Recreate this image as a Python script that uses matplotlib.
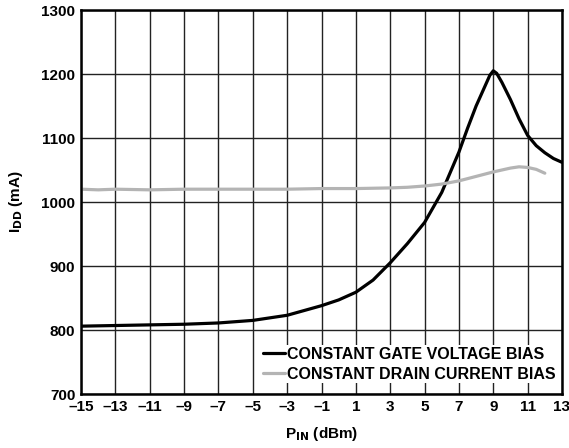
import numpy as np
import matplotlib
matplotlib.use("Agg")
from matplotlib import pyplot as plt

plt.rcParams['font.family'] = ['Liberation Sans', 'DejaVu Sans']
plt.rcParams['font.weight'] = 'bold'
plt.rcParams['mathtext.default'] = 'bf'

# constant gate voltage bias (black)
pin_gate = [-15, -13, -11, -9, -7, -5, -3, -1, 0, 1, 2, 3, 4, 5, 6, 7, 7.5, 8, 8.5, 8.8, 9,
            9.2, 9.5, 10, 10.5, 11, 11.5, 12, 12.5, 13]
idd_gate = [806, 807, 808, 809, 811, 815, 823, 838, 847, 859, 878, 905, 935, 968, 1015, 1078,
            1115, 1150, 1180, 1198, 1205, 1201, 1187, 1160, 1130, 1104, 1088, 1077, 1068, 1062]

# constant drain current bias (gray)
pin_drain = [-15, -14, -13, -11, -9, -7, -5, -3, -1, 1, 3, 4, 5, 6, 7, 8, 9, 10, 10.5, 11, 11.5, 12]
idd_drain = [1020, 1019, 1020, 1019, 1020, 1020, 1020, 1020, 1021, 1021, 1022, 1023, 1025, 1028,
             1033, 1040, 1047, 1053, 1055, 1054, 1051, 1045]

xticks = list(range(-15, 14, 2))
yticks = list(range(700, 1301, 100))

fig = plt.figure(figsize=(5.69, 4.48), dpi=100)
ax = fig.add_axes([81/569, 54/448, 481/569, 384/448])

ax.plot(pin_gate, idd_gate, color='black', lw=2.3, label='CONSTANT GATE VOLTAGE BIAS',
        solid_capstyle='round', zorder=3)
ax.plot(pin_drain, idd_drain, color='#b4b4b4', lw=2.3, label='CONSTANT DRAIN CURRENT BIAS',
        solid_capstyle='round', zorder=3)

ax.set_xlim(-15, 13)
ax.set_ylim(700, 1300)
ax.set_xticks(xticks)
ax.set_xticklabels([str(t).replace('-', '\u2013') for t in xticks], fontweight='bold', fontsize=11)
ax.set_yticks(yticks)
ax.set_yticklabels([str(t) for t in yticks], fontweight='bold', fontsize=11)
ax.grid(True, color='#222222', lw=1.0)
ax.tick_params(length=0, pad=4)
for s in ax.spines.values():
    s.set_linewidth(1.8)
    s.set_zorder(4)

ax.set_xlabel('P$_{\\mathbf{IN}}$ (dBm)', fontsize=11, fontweight='bold', labelpad=8)
ax.set_ylabel('I$_{\\mathbf{DD}}$ (mA)', fontsize=11, fontweight='bold', labelpad=12)

leg = ax.legend(loc='lower right', bbox_to_anchor=(1.0, 0.015), frameon=True,
                prop={'weight': 'bold', 'size': 11.5},
                fancybox=False, edgecolor='none', framealpha=1, handlelength=1.4,
                handletextpad=0.1, borderpad=0.1, labelspacing=0.3, borderaxespad=0.3)
leg.set_zorder(5)

fig.savefig('out.png', dpi=100)
